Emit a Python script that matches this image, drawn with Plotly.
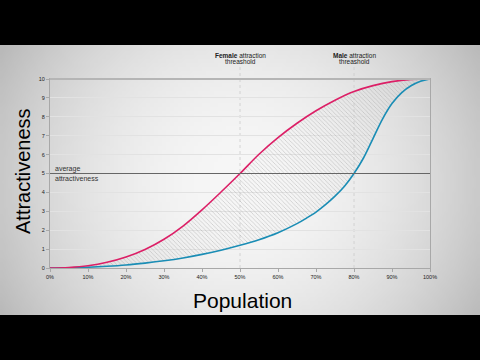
import zlib, struct, base64
import plotly.graph_objects as go

# ---- data ----
population = [0, 5, 10, 15, 20, 25, 30, 35, 40, 45, 50, 55, 60, 65, 70, 75, 80, 85, 90, 95, 100]
female_curve = [0, 0.03, 0.12, 0.3, 0.58, 0.98, 1.52, 2.22, 3.08, 4.02, 5.0, 6.02, 6.9, 7.66, 8.32, 8.88, 9.34, 9.65, 9.86, 9.97, 10]
male_population = [0, 5, 10, 15, 20, 25, 30, 35, 40, 45, 50, 55, 60, 65, 67.5, 70, 72.5, 75, 77.5, 80, 82.5, 85, 87.5, 90, 92.5, 95, 97.5, 100]
male_curve = [0, 0.01, 0.04, 0.09, 0.16, 0.26, 0.38, 0.53, 0.72, 0.94, 1.2, 1.5, 1.87, 2.35, 2.64, 2.96, 3.35, 3.8, 4.33, 5.0, 5.82, 6.85, 7.88, 8.7, 9.27, 9.64, 9.88, 10]
x_ticks = [0, 10, 20, 30, 40, 50, 60, 70, 80, 90, 100]
x_tick_labels = [f"{v}%" for v in x_ticks]
y_ticks = list(range(0, 11))
thresholds = [50, 80]
threshold_names = ["Female", "Male"]
average_value = 5

PINK = "#dc1f66"
BLUE = "#1a8db5"

# ---- vignette background image ----
W, H = 120, 68
raw = b""
for j in range(H):
    raw += b"\x00"
    dy = (j - H / 2) / (H / 2)
    for i in range(W):
        dx = (i - W / 2) / (W / 2)
        v = int(max(0, min(255, 247 - 46 * dx * dx - 16 * dy * dy)))
        raw += bytes([v, v, v])

def chunk(t, d):
    return struct.pack(">I", len(d)) + t + d + struct.pack(">I", zlib.crc32(t + d) & 0xffffffff)

png = (b"\x89PNG\r\n\x1a\n" + chunk(b"IHDR", struct.pack(">IIBBBBB", W, H, 8, 2, 0, 0, 0))
       + chunk(b"IDAT", zlib.compress(raw)) + chunk(b"IEND", b""))
bg_uri = "data:image/png;base64," + base64.b64encode(png).decode()

# pixel -> paper helpers (plot area: x 50..430, y 79..268)
L, R, T, B = 50, 430, 79, 268
def px(x):
    return (x - L) / (R - L)
def py(y):
    return (B - y) / (B - T)

fig = go.Figure()
fig.add_trace(go.Scatter(x=male_population, y=male_curve, mode="lines",
                         line=dict(color=BLUE, width=1.6, shape="spline"),
                         hoverinfo="skip", showlegend=False))
fig.add_trace(go.Scatter(x=population, y=female_curve, mode="lines",
                         line=dict(color=PINK, width=1.6, shape="spline"),
                         fill="tonexty", fillcolor="rgba(255,255,255,0)",
                         fillpattern=dict(shape="\\", fgcolor="#a0a0a0", size=3, solidity=0.25,
                                          fillmode="overlay"),
                         hoverinfo="skip", showlegend=False))

shapes = []
# black letterbox bands
shapes.append(dict(type="rect", xref="paper", yref="paper", x0=px(0), x1=px(480), y0=py(0), y1=py(45),
                   fillcolor="black", line_width=0, layer="above"))
shapes.append(dict(type="rect", xref="paper", yref="paper", x0=px(0), x1=px(480), y0=py(315), y1=py(360),
                   fillcolor="black", line_width=0, layer="above"))
# threshold dashed lines
for t in thresholds:
    shapes.append(dict(type="line", xref="x", yref="paper", x0=t, x1=t, y0=0, y1=py(67),
                       line=dict(color="#cbcbcb", width=0.8, dash="3px,3px"), layer="below"))
# average line
shapes.append(dict(type="line", xref="x", yref="y", x0=0, x1=100, y0=average_value, y1=average_value,
                   line=dict(color="#666666", width=1), layer="above"))
# top border thicker
shapes.append(dict(type="line", xref="paper", yref="paper", x0=0, x1=1, y0=1, y1=1,
                   line=dict(color="#b5b5b5", width=2)))

annotations = []
for t, name in zip(thresholds, threshold_names):
    annotations.append(dict(xref="x", yref="paper", x=t, y=py(55), text=f"<b>{name}</b> attraction",
                            showarrow=False, xanchor="center", yanchor="middle",
                            font=dict(size=6.5, color="#222", family="Liberation Sans")))
    annotations.append(dict(xref="x", yref="paper", x=t, y=py(61.5), text="threashold",
                            showarrow=False, xanchor="center", yanchor="middle",
                            font=dict(size=6.5, color="#222", family="Liberation Sans")))
annotations.append(dict(xref="paper", yref="y", x=px(53), y=average_value, yshift=4.5, text="average",
                        showarrow=False, xanchor="left", yanchor="middle",
                        font=dict(size=7, color="#333", family="Liberation Sans")))
annotations.append(dict(xref="paper", yref="y", x=px(53), y=average_value, yshift=-5, text="attractiveness",
                        showarrow=False, xanchor="left", yanchor="middle",
                        font=dict(size=7, color="#333", family="Liberation Sans")))
annotations.append(dict(xref="paper", yref="paper", x=px(242), y=py(300), text="Population",
                        showarrow=False, xanchor="center", yanchor="middle",
                        font=dict(size=21, color="black", family="Liberation Sans")))
annotations.append(dict(xref="paper", yref="paper", x=px(23), y=py(171), text="Attractiveness",
                        showarrow=False, xanchor="center", yanchor="middle", textangle=-90,
                        font=dict(size=20, color="black", family="Liberation Sans")))

fig.update_layout(
    width=480, height=360,
    margin=dict(l=L, r=480 - R, t=T, b=360 - B, pad=0),
    paper_bgcolor="black",
    plot_bgcolor="rgba(255,255,255,0.55)",
    shapes=shapes,
    annotations=annotations,
    images=[dict(source=bg_uri, xref="paper", yref="paper", x=px(0), y=py(45),
                 sizex=px(480) - px(0), sizey=py(45) - py(315), sizing="stretch",
                 xanchor="left", yanchor="top", layer="below")],
    xaxis=dict(range=[0, 100], tickvals=x_ticks, ticktext=x_tick_labels, showgrid=False,
               zeroline=False, showline=True, mirror=True, linecolor="#a8a8a8", linewidth=1,
               ticks="outside", ticklen=3, tickcolor="#a8a8a8",
               tickfont=dict(size=5.5, color="#222", family="Liberation Sans")),
    yaxis=dict(range=[0, 10], tickvals=y_ticks, showgrid=True, gridcolor="#e2e2e2", gridwidth=1,
               zeroline=False, showline=True, mirror=True, linecolor="#a8a8a8", linewidth=1,
               ticks="outside", ticklen=3, tickcolor="#a8a8a8",
               tickfont=dict(size=5.5, color="#222", family="Liberation Sans")),
    font=dict(family="Liberation Sans"),
)

fig.write_html("out.html")
